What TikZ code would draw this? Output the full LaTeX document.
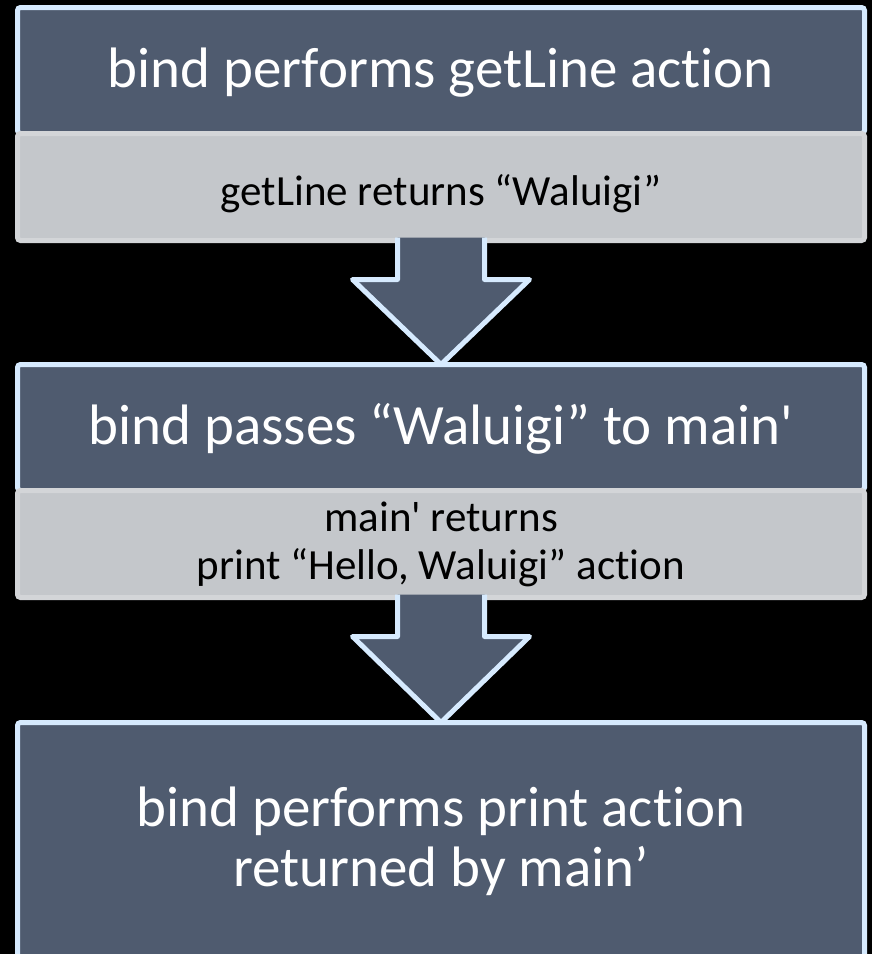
\documentclass[tikz,border=0pt]{standalone}
\usepackage{fontspec}
\usepackage{xcolor}
\usepackage{tikz}
\usetikzlibrary{positioning,calc}

\newfontfamily\slidefont{Carlito}[Ligatures=NoCommon]
\definecolor{slate}{RGB}{79,91,111}
\definecolor{edgeblue}{RGB}{214,234,254}
\definecolor{panelgray}{RGB}{196,199,203}
\definecolor{edgegray}{RGB}{211,213,216}

\begin{document}
\begin{tikzpicture}[
    x=1pt, y=-1pt,
    node distance=124pt,
    every node/.style={font=\slidefont},
    titlebox/.style={draw=edgeblue, line width=5pt, fill=slate, rounded corners=3pt, minimum width=847pt, minimum height=126pt, inner sep=0pt, outer sep=0pt, align=center, text=white, font=\slidefont\fontsize{57pt}{60pt}\selectfont},
    stepbox/.style={draw=edgegray, line width=5pt, fill=panelgray, rounded corners=3pt, minimum width=847pt, minimum height=107pt, inner sep=0pt, outer sep=0pt, align=center, text=black, font=\slidefont\fontsize{43pt}{48pt}\selectfont},
    downarrow/.style={draw=edgeblue, line width=5pt, fill=slate, line join=round}
]
\fill[black, use as bounding box] (0,0) rectangle (872,954);
\clip (0,0) rectangle (872,954);

% Boxes
\node[titlebox, text height=42pt, text depth=8pt] (bind1) at (441,70.5) {bind performs getLine action};
\node[stepbox, below=0pt of bind1, text height=36pt, text depth=0pt] (ret1) {getLine returns “Waluigi”};
\node[titlebox, below=of ret1, text height=42pt, text depth=8pt] (bind2) {bind passes “Waluigi” to main'};
\node[stepbox, below=0pt of bind2] (ret2) {main' returns\\print “Hello, Waluigi” action};
\node[titlebox, below=125pt of ret2, minimum height=237pt] (bind3) {bind performs print action\\returned by main’};

% Block arrows
\draw[downarrow] ($(ret1.south)+(-43.5,-3)$) -- ($(ret1.south)+(-43.5,39)$) -- ($(ret1.south)+(-88.5,39)$) -- (bind2.north) -- ($(ret1.south)+(88.5,39)$) -- ($(ret1.south)+(43.5,39)$) -- ($(ret1.south)+(43.5,-3)$);
\draw[downarrow] ($(ret2.south)+(-43.5,-3)$) -- ($(ret2.south)+(-43.5,39)$) -- ($(ret2.south)+(-88.5,39)$) -- (bind3.north) -- ($(ret2.south)+(88.5,39)$) -- ($(ret2.south)+(43.5,39)$) -- ($(ret2.south)+(43.5,-3)$);
\end{tikzpicture}
\end{document}
